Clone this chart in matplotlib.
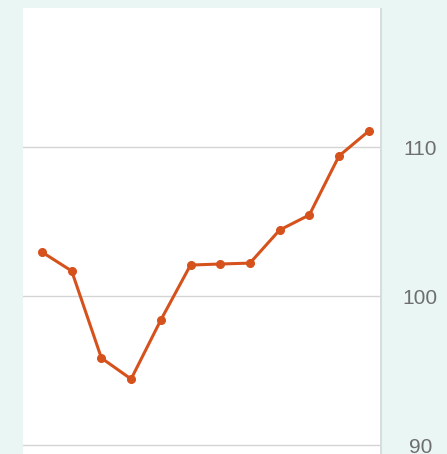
import matplotlib
matplotlib.use("Agg")
import matplotlib.pyplot as plt
from matplotlib.patches import Rectangle

# =====================================================================================
# Data
# =====================================================================================

values = [102.95, 101.68, 95.84, 94.43, 98.39, 102.08, 102.15, 102.21,
          104.43, 105.44, 109.40, 111.07]
y_ticks = [90, 100, 110]
y_tick_labels = ["90", "100", "110"]

LINE_COLOUR = "#d6521d"
BG_COLOUR = "#eaf6f4"

plt.rcParams["font.family"] = ["Liberation Sans", "DejaVu Sans"]

# =====================================================================================
# Plot
# =====================================================================================

W, H = 447, 454
fig = plt.figure(figsize=(W / 100, H / 100), dpi=100, facecolor=BG_COLOUR)

left, right, top = 23 / W, 380 / W, 1 - 8 / H
# soft shadow on the right edge of the panel
fig.patches.append(Rectangle((left, 0), right - left + 2.5 / W, top, transform=fig.transFigure,
                             facecolor="#d8dcdc", edgecolor="none", zorder=-1))
ax = fig.add_axes([left, 0, right - left, top], zorder=2)
ax.set_facecolor("white")

x = list(range(len(values)))
ax.plot(x, values, color=LINE_COLOUR, linewidth=2.2, marker="o", markersize=5.5,
        markerfacecolor=LINE_COLOUR, markeredgecolor=LINE_COLOUR, zorder=3)

ax.set_xlim(-0.64, 11.38)
ax.set_ylim(89.4, 119.33)

ax.set_yticks(y_ticks)
ax.set_yticklabels(y_tick_labels)
ax.yaxis.tick_right()
ax.tick_params(axis="y", length=0, pad=29, labelsize=15, labelcolor="#6e6e6e")
ax.set_xticks([])
for lbl in ax.get_yticklabels():
    lbl.set_horizontalalignment("center")

ax.grid(axis="y", color="#d4d4d4", linewidth=1)
ax.set_axisbelow(True)
for s in ax.spines.values():
    s.set_visible(False)

fig.savefig("out.png", dpi=100, facecolor=BG_COLOUR)
